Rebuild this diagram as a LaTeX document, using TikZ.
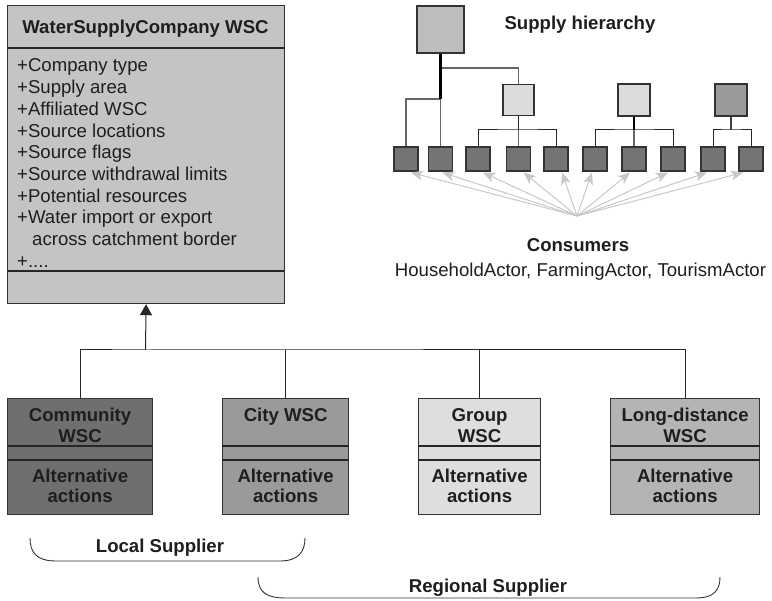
\documentclass[tikz,border=0pt]{standalone}
\usepackage{fontspec}
\setmainfont{Liberation Sans}
\usetikzlibrary{arrows.meta,calc}

\definecolor{mainfill}{HTML}{C4C4C4}
\definecolor{commfill}{HTML}{6F6F6F}
\definecolor{cityfill}{HTML}{9A9A9A}
\definecolor{groupfill}{HTML}{DEDEDE}
\definecolor{longfill}{HTML}{B4B4B4}
\definecolor{topfill}{HTML}{BDBDBD}
\definecolor{midfill}{HTML}{DCDCDC}
\definecolor{darkfill}{HTML}{999999}
\definecolor{leaffill}{HTML}{747474}
\definecolor{edgegray}{HTML}{333333}
\definecolor{linkgray}{HTML}{666666}
\definecolor{txt}{HTML}{1E1E1E}
\definecolor{consgray}{HTML}{C8C8C8}

\tikzset{
  box/.style={draw=edgegray, line width=1.2pt, inner sep=0pt, anchor=north west},
  sq/.style={draw=edgegray, line width=1.1pt, inner sep=0pt, minimum size=#1},
  leaf/.style={sq=24pt, fill=leaffill},
  bold/.style={font=\fontsize{18.6}{21.6}\selectfont\bfseries, text=txt, inner sep=0pt},
  plain/.style={font=\fontsize{18.6}{21.6}\selectfont, text=txt, inner sep=0pt},
  divider/.style={draw=black!85, line width=1.2pt},
  tree/.style={draw=black!85, line width=1pt},
  link/.style={draw=linkgray, line width=1.1pt},
  heavy/.style={draw=black, line width=2.2pt},
  consarrow/.style={draw=consgray, line width=1pt, -{Stealth[length=12pt, width=10pt, inset=3pt]}},
  brace/.style={draw=black!80, line width=0.9pt},
}

\begin{document}
\begin{tikzpicture}[x=1pt, y=-1pt]
\useasboundingbox (0,0) rectangle (772,601);

% ---- WaterSupplyCompany class ----
\node[box, fill=mainfill, minimum width=277pt, minimum height=298pt] (wsc) at (7,5) {};
\draw[divider] (7,48) -- (284,48);
\draw[divider] (7,271) -- (284,271);
\node[bold, anchor=base] (wsctitle) at (145.5,34) {WaterSupplyCompany WSC};
\foreach \t [count=\i] in {{+Company type}, {+Supply area}, {+Affiliated WSC},
    {+Source locations}, {+Source flags}, {+Source withdrawal limits},
    {+Potential resources}, {+Water import or export},
    {\hspace*{15pt}across catchment border}, {+{.}{.}{.}{.}}}
  \node[plain, anchor=base west] (attr\i) at (17,50.3+21.7*\i) {\t};

% ---- specialised companies ----
\node[box, fill=commfill,  minimum width=145pt, minimum height=116pt] (comm)  at (7,398) {};
\node[box, fill=cityfill,  minimum width=126pt, minimum height=116pt] (city)  at (222,398) {};
\node[box, fill=groupfill, minimum width=122pt, minimum height=116pt] (group) at (418,398) {};
\node[box, fill=longfill,  minimum width=149pt, minimum height=116pt] (long)  at (610,398) {};
\foreach \b in {comm, city, group, long} {
  \draw[divider] (\b.west |- 0,446) -- (\b.east |- 0,446);
  \draw[divider] (\b.west |- 0,460) -- (\b.east |- 0,460);
  \node[bold, anchor=base] (\b alt) at ($(\b.north)+(0,85)$) {Alternative};
  \node[bold, anchor=base] (\b act) at ($(\b.north)+(0,105)$) {actions};
}
\node[bold, anchor=base] (commA) at ($(comm.north)+(0,24)$) {Community};
\node[bold, anchor=base] (commB) at ($(comm.north)+(0,45)$) {WSC};
\node[bold, anchor=base] (cityA) at ($(city.north)+(0,24)$) {City WSC};
\node[bold, anchor=base] (groupA) at ($(group.north)+(0,24)$) {Group};
\node[bold, anchor=base] (groupB) at ($(group.north)+(0,45)$) {WSC};
\node[bold, anchor=base] (longA) at ($(long.north)+(0,24)$) {Long-distance};
\node[bold, anchor=base] (longB) at ($(long.north)+(0,45)$) {WSC};

% ---- generalisation ----
\coordinate (join) at (145.5,350);
\draw[tree] (comm.north) |- (join) -| (long.north);
\draw[tree] (city.north) -- (city.north |- join);
\draw[tree] (group.north) -- (group.north |- join);
\draw[tree, -{Triangle[length=11pt, width=12pt]}] (join) -- (wsc.south);

% ---- supplier groups ----
\draw[brace] (30,538) .. controls (30,552) and (36,561) .. (56,561) -- (280,561)
  .. controls (298,561) and (305,552) .. (305,538);
\node[bold, anchor=base] (local) at (160,553) {Local Supplier};
\draw[brace] (258,577) .. controls (258,592) and (266,598) .. (286,598) -- (696,598)
  .. controls (714,598) and (720,590) .. (720,577);
\node[bold, anchor=base] (regional) at (488,593) {Regional Supplier};

% ---- supply hierarchy ----
\node[bold, anchor=base] (hiertitle) at (580,30) {Supply hierarchy};
\node[sq=47pt, fill=topfill] (top) at (440.5,29.5) {};
\node[sq=31pt, fill=midfill] (b2) at (518.5,100) {};
\node[sq=32pt, fill=midfill] (b3) at (634,100) {};
\node[sq=32pt, fill=darkfill] (b4) at (731,100) {};
\foreach \x [count=\i] in {406,440.5,478,518.5,556,595,634,673,713,751}
  \node[leaf] (l\i) at (\x,159) {};

\coordinate (t1) at (440.5,68);
\coordinate (t2) at (440.5,99);
\draw[link] (t1) -| (b2.north);
\draw[link] (l1.north) |- (t2) -- (l2.north);
\draw[heavy] (top.south) -- (t2);

\coordinate (m2) at (518.5,130);
\draw[tree, line width=0.9pt] (b2.south) -- (m2);
\draw[tree] (l3.north) |- (m2) -| (l5.north);
\draw[link] (m2) -- (l4.north);

\coordinate (m3) at (634,130);
\draw[tree] (l6.north) |- (m3) -| (l8.north);
\draw[link] (m3) -- (l7.north);
\draw[heavy] (b3.south) -- (m3);

\coordinate (m4) at (731,130);
\draw[tree] (l9.north) |- (m4) -| (l10.north);
\draw[draw=black!75, line width=1.8pt] (b4.south) -- (m4);

% ---- consumers ----
\coordinate (cons) at (577,216);
\foreach \i/\s in {1/5,2/2,3/5,4/5,5/6,6/-3,7/-4,8/-5,9/-6,10/-8}
  \draw[consarrow] (cons) -- ([xshift=\s pt, yshift=-1pt]l\i.south);
\node[bold, anchor=base] (constitle) at (578,252) {Consumers};
\node[plain, anchor=base] (conslist) at (580.5,277) {HouseholdActor, FarmingActor, TourismActor};
\end{tikzpicture}
\end{document}
